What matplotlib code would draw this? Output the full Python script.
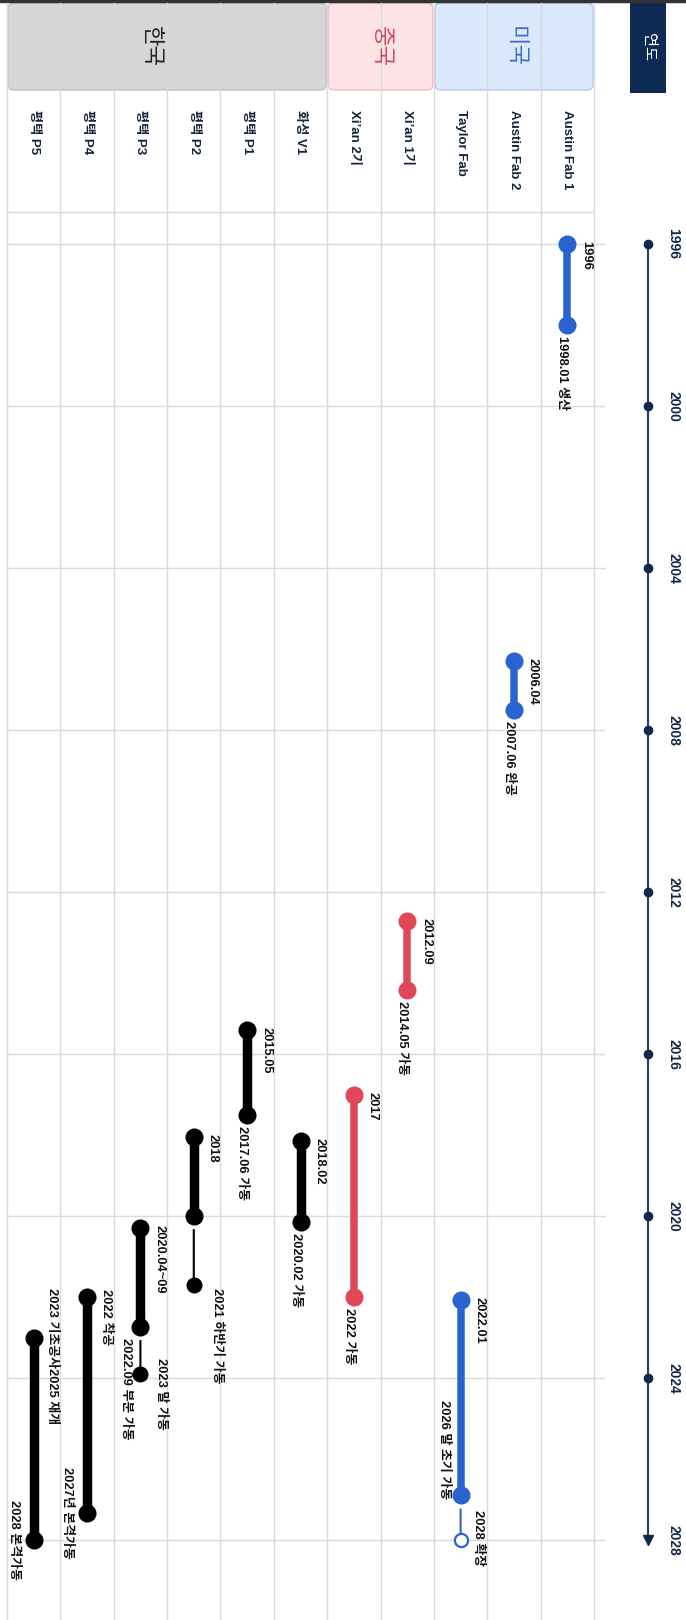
import numpy as np
import matplotlib
matplotlib.use("Agg")
import matplotlib.pyplot as plt
from matplotlib import transforms
from matplotlib.patches import FancyBboxPatch

plt.rcParams['font.family'] = ['Liberation Sans', 'Noto Sans CJK KR', 'DejaVu Sans']

# ---- data ----
facilities = ['Austin Fab 1', 'Austin Fab 2', 'Taylor Fab', 'Xi\u2019an 1기', 'Xi\u2019an 2기',
              '화성 V1', '평택 P1', '평택 P2', '평택 P3', '평택 P4', '평택 P5']
groups = ['미국', '중국', '한국']
group_sizes = [3, 2, 6]

start_year = [1996.0, 2006.3, 2022.08, 2012.72, 2017.0, 2018.15, 2015.4, 2018.05, 2020.3, 2022.0, 2023.0]
end_year = [1998.0, 2007.5, 2026.9, 2014.42, 2022.0, 2020.15, 2017.5, 2020.0, 2022.74, 2027.33, 2028.0]
ext_year = [np.nan, np.nan, 2028.0, np.nan, np.nan, np.nan, np.nan, 2021.7, 2023.9, np.nan, np.nan]
ext_planned = [False, False, True, False, False, False, False, False, False, False, False]

start_label = ['1996', '2006.04', '2022.01', '2012.09', '2017', '2018.02', '2015.05', '2018',
               '2020.04~09', '2022 착공', '2023 기초공사2025 재개']
end_label = ['1998.01 생산', '2007.06 완공', '2026 말 초기 가동', '2014.05 가동', '2022 가동',
             '2020.02 가동', '2017.06 가동', '', '2022.09 부분 가동', '2027년 본격가동', '2028 본격가동']
ext_label = ['', '', '2028 확장', '', '', '', '', '2021 하반기 가동', '2023 말 가동', '', '']

year_ticks = [1996, 2000, 2004, 2008, 2012, 2016, 2020, 2024, 2028]

# ---- styles / layout ----
W, H = 686, 1620
group_color = {'미국': '#2a63cf', '중국': '#e0485a', '한국': '#000000'}
group_fill = {'미국': '#dce8fb', '중국': '#fde3e6', '한국': '#d6d6d6'}
group_edge = {'미국': '#b5cbee', '중국': '#f3bcc5', '한국': '#c2c2c2'}
group_text = {'미국': '#3a6fd2', '중국': '#cc4a5c', '한국': '#222222'}
group_nudge = {'한국': -17}
navy = '#13294b'
grid_c = '#d5dae3'

# label placement (pixels): (dx, dy, va)
start_dy = {'평택 P4': -8, '평택 P5': -49}
end_place = {'평택 P3': (-14, 11, 'top'), 'Taylor Fab': (-17, 4, 'bottom'),
             '평택 P4': (-20, 0, 'center'), '평택 P5': (-20, 0, 'center')}
ext_place = {'Taylor Fab': (17, -30, 'top'), '평택 P2': (23, 3, 'top'), '평택 P3': (21, -16, 'top')}

fig = plt.figure(figsize=(W / 100, H / 100), dpi=100)
left_px, right_px = 7, 594
ax = fig.add_axes([left_px / W, 0, (right_px - left_px) / W, 1])
n = len(facilities)
ax.set_xlim(-0.5, n - 0.5)
ppy = 40.5
y0px = 244
ax.set_ylim(1996 + (H - y0px) / ppy, 1996 - y0px / ppy)
ax.axis('off')

xdata_yfig = transforms.blended_transform_factory(ax.transData, fig.transFigure)
xfig_ydata = transforms.blended_transform_factory(fig.transFigure, ax.transData)
ident = transforms.IdentityTransform()

xs = [n - 1 - i for i in range(n)]
fac_group = [g for g, s in zip(groups, group_sizes) for _ in range(s)]

# grid
for b in np.arange(-0.5, n, 1.0):
    ax.plot([b, b], [0, 1 - 3 / H], transform=xdata_yfig, color=grid_c, lw=1, zorder=3,
            clip_on=False)
ax.plot([-0.5, n - 0.5], [1 - 212 / H] * 2, transform=xdata_yfig, color=grid_c, lw=1, clip_on=False)
x_grid_end = (605 - left_px) / 53.36 - 0.5
ax.hlines(year_ticks, -0.5, x_grid_end, color=grid_c, lw=1, clip_on=False, zorder=1)

# group header boxes
i0 = 0
for g, s in zip(groups, group_sizes):
    xa = xs[i0 + s - 1] - 0.5
    xb = xs[i0] + 0.5
    da = ax.transData.transform((xa, 2000))[0]
    db = ax.transData.transform((xb, 2000))[0]
    box = FancyBboxPatch((da + 1, H - 90), db - da - 2, 87,
                         boxstyle='round,pad=0,rounding_size=6', transform=ident,
                         fc=group_fill[g], ec=group_edge[g], lw=1, clip_on=False, zorder=2)
    ax.add_patch(box)
    cx = (da + db) / 2 + group_nudge.get(g, 0)
    ax.text(cx, H - 47, g, transform=ident, rotation=270, ha='center', va='center',
            fontsize=16, color=group_text[g], zorder=4)
    i0 += s

# row labels
for x, name in zip(xs, facilities):
    ax.text(x, 1 - 110 / H, name, transform=xdata_yfig, rotation=270, ha='center', va='top',
            fontsize=9.5, fontweight='bold', color='#14233f')

# year axis on the right
ax_x = 648 / W
ax.plot([ax_x, ax_x], [year_ticks[0], year_ticks[-1]], transform=xfig_ydata, color='#2d3e5a',
        lw=1.5, clip_on=False)
ax.plot([ax_x] * (len(year_ticks) - 1), year_ticks[:-1], 'o', transform=xfig_ydata,
        color=navy, ms=6, clip_on=False)
ax.plot([ax_x], [year_ticks[-1]], 'v', transform=xfig_ydata, color=navy, ms=7, clip_on=False)
for yr in year_ticks:
    ax.text(673 / W, yr, str(yr), transform=xfig_ydata, rotation=270, ha='center', va='center',
            fontsize=10, fontweight='bold', color=navy)

# 연도 header
ax.add_patch(FancyBboxPatch((630, H - 93), 36, 90, boxstyle='square,pad=0', transform=ident,
                            fc='#0d2a55', ec='none', clip_on=False))
ax.text(648, H - 47, '연도', transform=ident, rotation=270, ha='center', va='center',
        fontsize=11, color='white')

# top rule
ax.plot([0, 1], [1 - 1 / H] * 2, transform=fig.transFigure, color='#333333', lw=2.5,
        clip_on=False)

# bars
lab_kw = dict(textcoords='offset pixels', rotation=270, ha='center', fontsize=9.3,
              fontweight='bold', color='#111111', zorder=7)
for i, name in enumerate(facilities):
    x = xs[i]
    c = group_color[fac_group[i]]
    bw = 6.8 if fac_group[i] == '한국' else 5.4
    ax.plot([x, x], [start_year[i], end_year[i]], color=c, lw=bw, solid_capstyle='butt', zorder=5)
    ax.plot([x, x], [start_year[i], end_year[i]], 'o', color=c, ms=12, zorder=6)
    if not np.isnan(ext_year[i]):
        shrink_b = 5 if ext_planned[i] else 0
        ax.annotate('', xy=(x, ext_year[i]), xytext=(x, end_year[i]),
                    arrowprops=dict(arrowstyle='-', color=c, lw=1.5, shrinkA=10, shrinkB=shrink_b),
                    zorder=5)
        if ext_planned[i]:
            ax.plot([x], [ext_year[i]], 'o', mfc='white', mec=c, mew=1.6, ms=9.5, zorder=6)
        else:
            ax.plot([x], [ext_year[i]], 'o', color=c, ms=10.5, zorder=6)

    ax.annotate(start_label[i], xy=(x, start_year[i]), xytext=(19, -start_dy.get(name, -3)),
                va='top', **lab_kw)
    if end_label[i]:
        dx, dy, va = end_place.get(name, (-5, 11, 'top'))
        ax.annotate(end_label[i], xy=(x, end_year[i]), xytext=(dx, -dy), va=va, **lab_kw)
    if ext_label[i]:
        dx, dy, va = ext_place[name]
        ax.annotate(ext_label[i], xy=(x, ext_year[i]), xytext=(dx, -dy), va=va, **lab_kw)

fig.savefig('out.png', dpi=100, facecolor='white')
